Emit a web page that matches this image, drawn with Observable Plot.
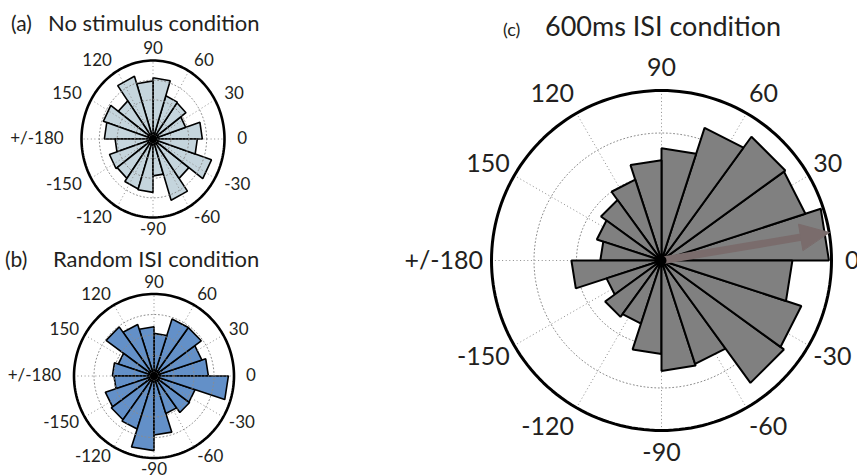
<!DOCTYPE html>
<html><head><meta charset="utf-8">
<script src="https://cdn.jsdelivr.net/npm/d3@7"></script>
<script src="https://cdn.jsdelivr.net/npm/@observablehq/plot@0.6"></script>
<style>
html,body{margin:0;padding:0;background:#fff;overflow:hidden}
#wrap{position:relative;width:857px;height:476px;overflow:hidden;background:#fff}
#wrap svg{position:absolute;left:0;top:0;background:transparent !important;overflow:visible}
</style></head><body><div id="wrap"></div>
<script>
// ---- data ----
const binStartsDeg = [0,18,36,54,72,90,108,126,144,162,180,198,216,234,252,270,288,306,324,342];
const binWidthDeg = 18;
// bar lengths as fraction of the outer circle
const noStimulus = [0.69,0.48,0.57,0.58,0.78,0.74,0.84,0.60,0.73,0.68,0.53,0.64,0.62,0.67,0.68,0.47,0.82,0.62,0.86,0.62];
const randomISI  = [0.68,0.63,0.73,0.73,0.52,0.60,0.66,0.74,0.47,0.52,0.50,0.64,0.66,0.68,0.91,0.72,0.48,0.55,0.54,0.93];
const isi600     = [0.985,0.89,0.90,0.82,0.66,0.59,0.50,0.44,0.40,0.36,0.53,0.34,0.41,0.39,0.55,0.65,0.64,0.89,0.865,0.77];
const meanDirectionDeg = 9.5;
const meanLength = 1.0;
const tickAnglesDeg = [0,30,60,90,120,150,180,210,240,270,300,330];
const tickLabels = ["0","30","60","90","120","150","+/-180","-150","-120","-90","-60","-30"];
const gridRings = [0.25,0.5,0.75];
const panelTitles = [
  {tag:"(a)", text:"No stimulus condition"},
  {tag:"(b)", text:"Random ISI condition"},
  {tag:"(c)", text:"600ms ISI condition"}
];

// ---- drawing ----
const W = 857, H = 476;
const FONT = "Lato, 'Open Sans', sans-serif";
const rad = d => d * Math.PI / 180;
const wrap = document.getElementById("wrap");

function rosePanel(p) {
  const wedges = p.values.flatMap((v, i) => {
    const a0 = rad(binStartsDeg[i]), a1 = rad(binStartsDeg[i] + binWidthDeg);
    return [
      {bin: i, x: 0, y: 0},
      {bin: i, x: v * Math.cos(a0), y: v * Math.sin(a0)},
      {bin: i, x: v * Math.cos(a1), y: v * Math.sin(a1)}
    ];
  });
  const circle = r => d3.range(0, 360, 2).map(t => ({r, x: r * Math.cos(rad(t)), y: r * Math.sin(rad(t))}));
  const rings = gridRings.flatMap(circle);
  const outer = circle(1);
  const spokes = tickAnglesDeg.map(a => ({x2: Math.cos(rad(a)), y2: Math.sin(rad(a))}));
  const labels = tickAnglesDeg.map((a, i) => {
    const c = Math.cos(rad(a)), s = Math.sin(rad(a));
    let side = Math.abs(c) < 0.1 ? "middle" : (c > 0 ? "start" : "end");
    let kx = p.kxSide;
    if (a === 0) kx = p.kx0;
    if (a === 180) kx = p.kx180;
    return {label: tickLabels[i], side, x: side === "middle" ? 0 : kx * c, y: p.ky * s};
  });
  const grid = [
    Plot.line(rings, {x: "x", y: "y", z: "r", curve: "linear-closed", stroke: "#8c8c8c", strokeWidth: 1, strokeDasharray: "1,2.6"}),
    Plot.link(spokes, {x1: () => 0, y1: () => 0, x2: "x2", y2: "y2", stroke: "#8c8c8c", strokeWidth: 1, strokeDasharray: "1,2.6"})
  ];
  const bars = Plot.line(wedges, {x: "x", y: "y", z: "bin", curve: "linear-closed", fill: p.fill, stroke: "#000", strokeWidth: p.barStroke, strokeLinejoin: "miter"});
  const outerMark = Plot.line(outer, {x: "x", y: "y", curve: "linear-closed", stroke: "#000", strokeWidth: p.outerStroke});
  const marks = p.gridOnTop ? [bars, ...grid, outerMark] : [...grid, outerMark, bars];
  if (p.arrow) {
    const a = rad(p.arrow.deg), L = p.arrow.len, hl = p.arrow.headLen, hw = p.arrow.headHalf;
    const ux = Math.cos(a), uy = Math.sin(a), px = -uy, py = ux;
    const bx = (L - hl) * ux, by = (L - hl) * uy;
    marks.push(Plot.link([{x2: bx + 0.02 * ux, y2: by + 0.02 * uy}], {x1: () => 0, y1: () => 0, x2: "x2", y2: "y2", stroke: p.arrow.color, strokeWidth: p.arrow.width}));
    const head = [
      {x: L * ux, y: L * uy},
      {x: bx + hw * px, y: by + hw * py},
      {x: bx - hw * px, y: by - hw * py}
    ];
    marks.push(Plot.line(head, {x: "x", y: "y", curve: "linear-closed", fill: p.arrow.color, stroke: p.arrow.color, strokeWidth: 1}));
  }
  marks.push(Plot.dot([{x: 0, y: 0}], {x: "x", y: "y", r: p.centerR, fill: "#000", stroke: "none"}));
  for (const side of ["start", "middle", "end"]) {
    marks.push(Plot.text(labels.filter(d => d.side === side), {
      x: "x", y: "y", text: "label", textAnchor: side, fontSize: p.fontSize, fill: "#231f20", fontFamily: FONT
    }));
  }
  const svg = Plot.plot({
    width: W, height: H, margin: 0,
    x: {domain: [-p.cx / p.rx, (W - p.cx) / p.rx], axis: null},
    y: {domain: [-(H - p.cy) / p.ry, p.cy / p.ry], axis: null},
    style: {background: "transparent", fontFamily: FONT},
    marks
  });
  wrap.appendChild(svg);
}

rosePanel({values: noStimulus, cx: 152.5, cy: 138.5, rx: 71.5, ry: 78.5, fill: "#c5d5dd", barStroke: 1.6, outerStroke: 2.6,
  gridOnTop: true, kxSide: 1.15, kx0: 1.18, kx180: 1.25, ky: 1.15, fontSize: 17, centerR: 4});
rosePanel({values: randomISI, cx: 153.5, cy: 375.5, rx: 80, ry: 82, fill: "#6390c8", barStroke: 1.6, outerStroke: 2.6,
  gridOnTop: true, kxSide: 1.08, kx0: 1.15, kx180: 1.16, ky: 1.14, fontSize: 17, centerR: 4});
rosePanel({values: isi600, cx: 661, cy: 260, rx: 170, ry: 170, fill: "#808080", barStroke: 2, outerStroke: 3,
  gridOnTop: false, kxSide: 1.03, kx0: 1.08, kx180: 1.05, ky: 1.13, fontSize: 25, centerR: 5,
  arrow: {deg: meanDirectionDeg, len: meanLength, headLen: 0.17, headHalf: 0.078, width: 7.5, color: "#7a6c6c"}});

// titles
const tsvg = d3.select(wrap).append("svg").attr("width", W).attr("height", H)
  .style("font-family", FONT).style("fill", "#231f20");
const titlePos = [
  {tagX: 11, x: 48, y: 31, tagSize: 21, size: 22},
  {tagX: 5, x: 53, y: 267, tagSize: 21, size: 22},
  {tagX: 503, x: 545, y: 36, tagSize: 18, size: 27}
];
panelTitles.forEach((t, i) => {
  const p = titlePos[i];
  tsvg.append("text").attr("x", p.tagX).attr("y", p.y).attr("font-size", p.tagSize).text(t.tag);
  tsvg.append("text").attr("x", p.x).attr("y", p.y).attr("font-size", p.size).text(t.text);
});
</script></body></html>
